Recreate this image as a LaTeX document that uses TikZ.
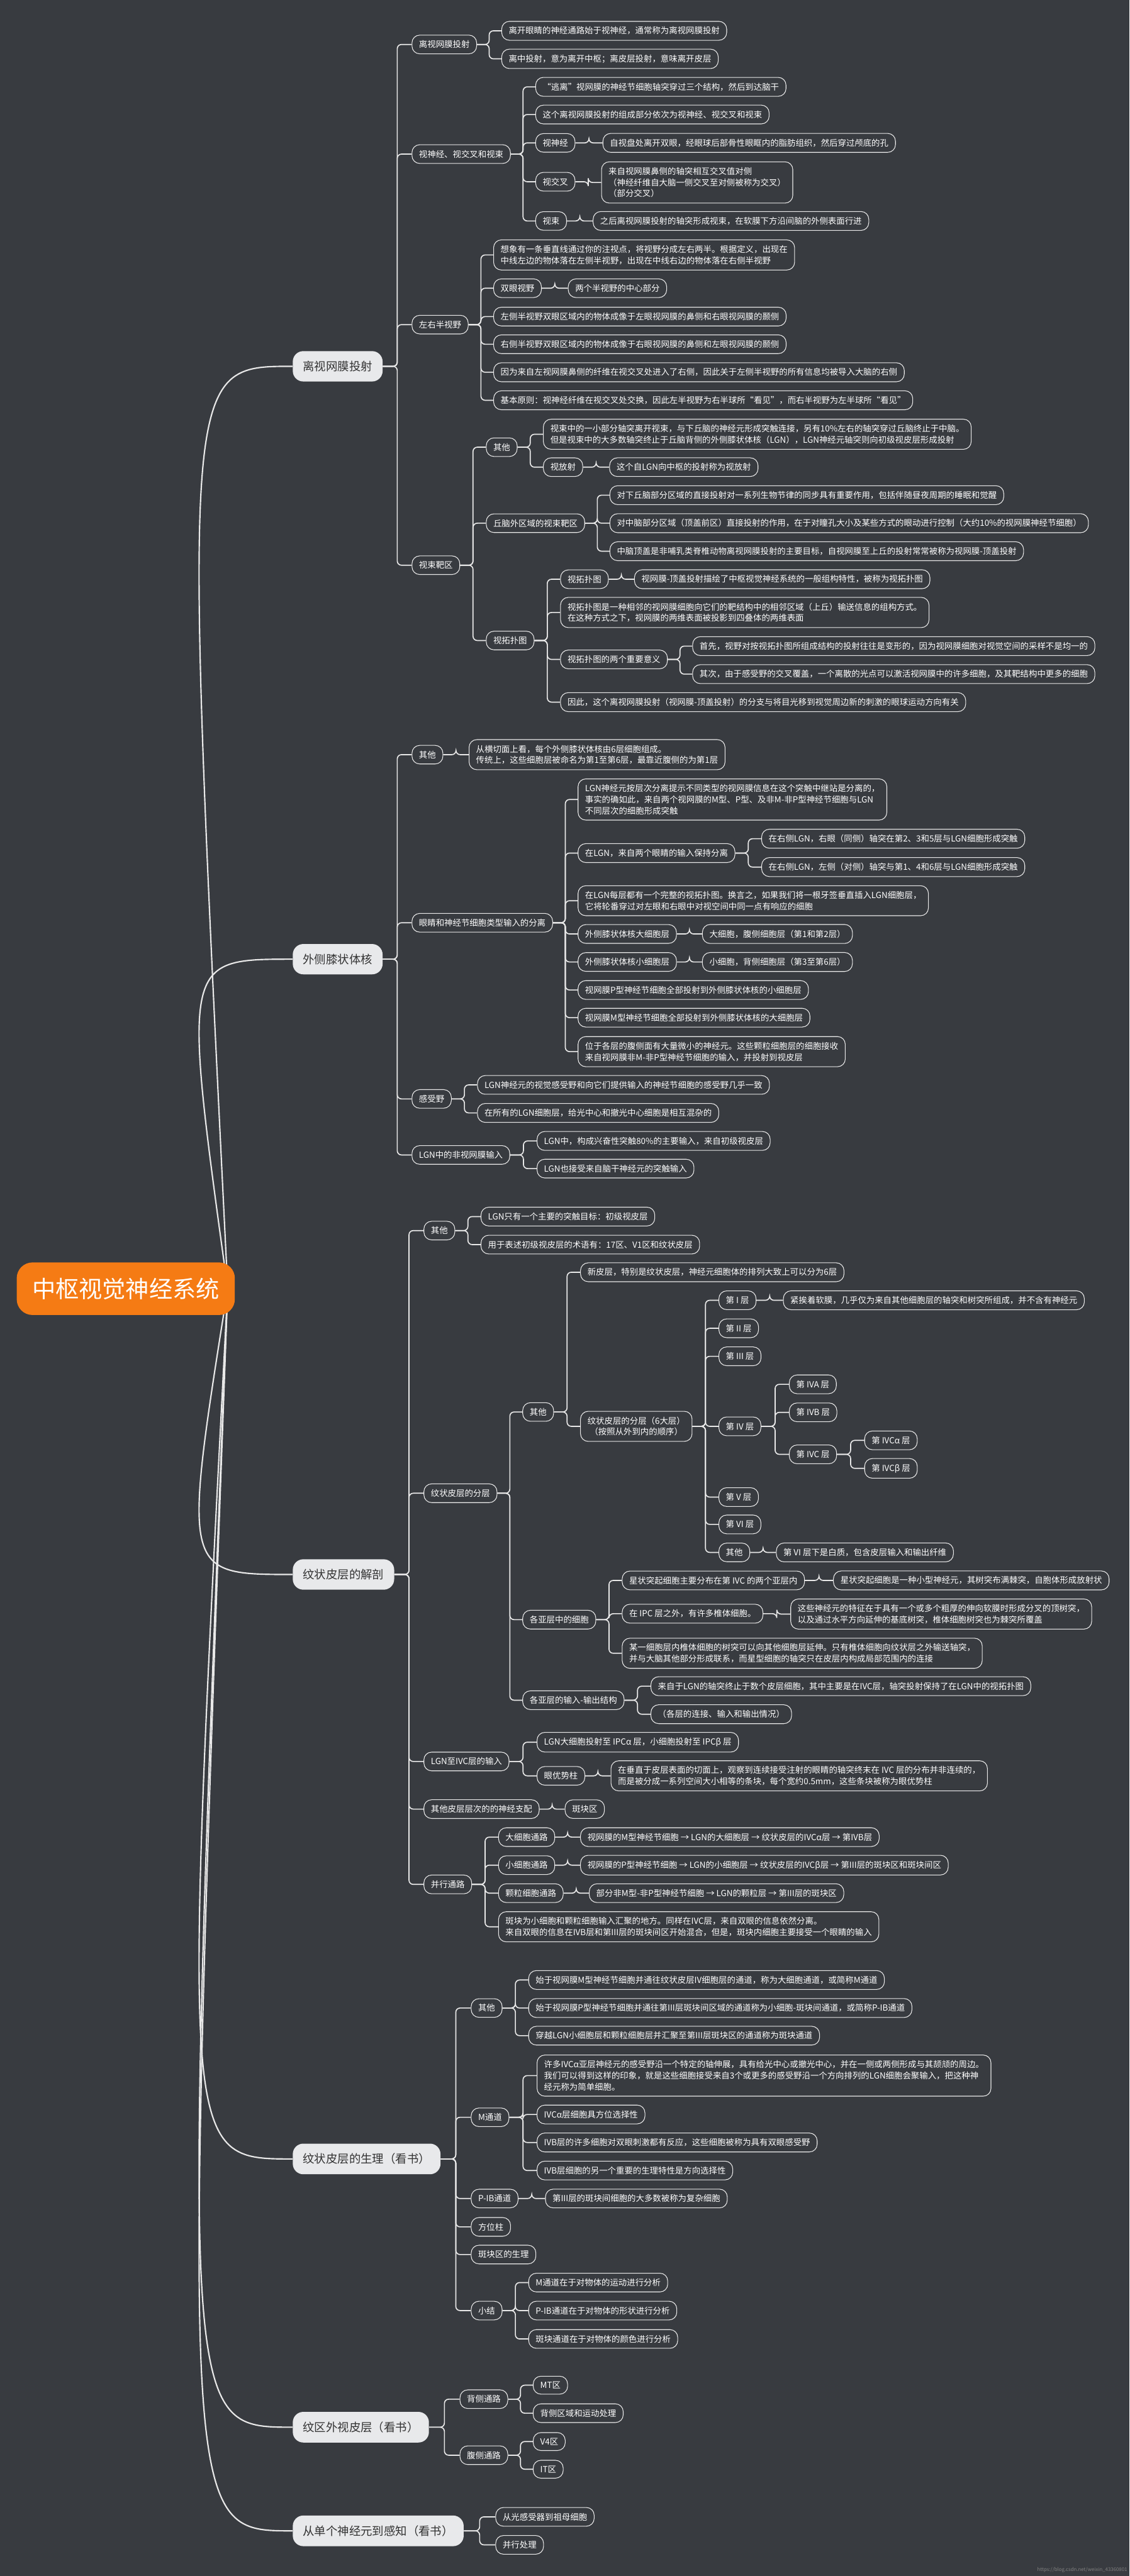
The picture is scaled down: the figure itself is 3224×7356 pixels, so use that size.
\documentclass[tikz,border=0pt]{standalone}
\usepackage{fontspec}
\setmainfont{Noto Sans CJK SC}
\usetikzlibrary{calc}
\definecolor{bgc}{RGB}{56,59,64}
\definecolor{linec}{RGB}{232,232,232}
\definecolor{lonefill}{RGB}{232,233,235}
\definecolor{lonetext}{RGB}{51,51,51}
\definecolor{rootfill}{RGB}{245,123,20}
\pgfdeclarelayer{bglayer}\pgfdeclarelayer{linelayer}
\pgfsetlayers{bglayer,linelayer,main}
\newcommand\fsmall{\fontsize{6.85}{9.1}\selectfont}
\newcommand\fone{\fontsize{9.4}{11}\selectfont}
\newcommand\froot{\fontsize{19}{22}\selectfont}
\newcommand\cn[2]{\draw[conn] (#1.east) -- ($(#1.east)!0.5!(#1.east-|#2.west)$) |- (#2.west);}
\begin{document}
\begin{tikzpicture}[x=0.01cm,y=-0.01cm,
  n/.style={draw=linec, line width=0.55pt, fill=bgc, rounded corners=0.22cm, inner xsep=0.2cm, inner ysep=0.155cm, text=white, font=\fsmall, anchor=west, align=left},
  lone/.style={fill=lonefill, draw=none, rounded corners=0.3cm, text=lonetext, font=\fone, inner xsep=0.29cm, inner ysep=0.28cm, anchor=west},
  rootbox/.style={fill=rootfill, draw=none, rounded corners=0.45cm, text=white, font=\froot, inner xsep=0.44cm, minimum height=1.5cm},
  conn/.style={draw=linec, line width=0.85pt, rounded corners=0.12cm},
  curve/.style={draw=linec, line width=1.1pt}]
\begin{pgfonlayer}{bglayer}
\fill[bgc] (0,0) rectangle (3224,7356);
\end{pgfonlayer}
\useasboundingbox (0,0) rectangle (3224,7356);

% root and first level
\node[rootbox] (root) at (359,3680) {中枢视觉神经系统};
\coordinate (rc) at (650,3680);
\node[lone] (L1) at (835,1046) {离视网膜投射};
\node[lone] (L2) at (835,2739) {外侧膝状体核};
\node[lone] (L3) at (835,4496) {纹状皮层的解剖};
\node[lone] (L4) at (835,6165) {纹状皮层的生理（看书）};
\node[lone] (L5) at (835,6931) {纹区外视皮层（看书）};
\node[lone] (L6) at (835,7227) {从单个神经元到感知（看书）};

% ---- L1
\node[n] (A1) at (1175,127) {离视网膜投射};
\node[n] (A1a) at (1431,88) {离开眼睛的神经通路始于视神经，通常称为离视网膜投射};
\node[n] (A1b) at (1431,168) {离中投射，意为离开中枢；离皮层投射，意味离开皮层};
\node[n] (A2) at (1175,440) {视神经、视交叉和视束};
\node[n] (A2a) at (1528,248) {“逃离”视网膜的神经节细胞轴突穿过三个结构，然后到达脑干};
\node[n] (A2b) at (1528,327) {这个离视网膜投射的组成部分依次为视神经、视交叉和视束};
\node[n] (A2c) at (1528,408) {视神经};
\node[n] (A2c1) at (1720,408) {自视盘处离开双眼，经眼球后部骨性眼眶内的脂肪组织，然后穿过颅底的孔};
\node[n] (A2d) at (1528,519) {视交叉};
\node[n] (A2d1) at (1716,521) {来自视网膜鼻侧的轴突相互交叉值对侧\\（神经纤维自大脑一侧交叉至对侧被称为交叉）\\（部分交叉）};
\node[n] (A2e) at (1528,631) {视束};
\node[n] (A2e1) at (1692,631) {之后离视网膜投射的轴突形成视束，在软膜下方沿间脑的外侧表面行进};
\node[n] (A3) at (1175,927) {左右半视野};
\node[n] (A3a) at (1408,728) {想象有一条垂直线通过你的注视点，将视野分成左右两半。根据定义，出现在\\中线左边的物体落在左侧半视野，出现在中线右边的物体落在右侧半视野};
\node[n] (A3b) at (1408,823) {双眼视野};
\node[n] (A3b1) at (1621,823) {两个半视野的中心部分};
\node[n] (A3c) at (1408,904) {左侧半视野双眼区域内的物体成像于左眼视网膜的鼻侧和右眼视网膜的颞侧};
\node[n] (A3d) at (1408,983) {右侧半视野双眼区域内的物体成像于右眼视网膜的鼻侧和左眼视网膜的颞侧};
\node[n] (A3e) at (1408,1063) {因为来自左视网膜鼻侧的纤维在视交叉处进入了右侧，因此关于左侧半视野的所有信息均被导入大脑的右侧};
\node[n] (A3f) at (1408,1143) {基本原则：视神经纤维在视交叉处交换，因此左半视野为右半球所“看见”，而右半视野为左半球所“看见”};
\node[n] (A4) at (1175,1614) {视束靶区};
\node[n] (A4a) at (1387,1277) {其他};
\node[n] (A4a1) at (1550,1240) {视束中的一小部分轴突离开视束，与下丘脑的神经元形成突触连接，另有10\%左右的轴突穿过丘脑终止于中脑。\\但是视束中的大多数轴突终止于丘脑背侧的外侧膝状体核（LGN），LGN神经元轴突则向初级视皮层形成投射};
\node[n] (A4a2) at (1550,1334) {视放射};
\node[n] (A4a2a) at (1739,1334) {这个自LGN向中枢的投射称为视放射};
\node[n] (A4b) at (1387,1494) {丘脑外区域的视束靶区};
\node[n] (A4b1) at (1740,1414) {对下丘脑部分区域的直接投射对一系列生物节律的同步具有重要作用，包括伴随昼夜周期的睡眠和觉醒};
\node[n] (A4b2) at (1740,1494) {对中脑部分区域（顶盖前区）直接投射的作用，在于对瞳孔大小及某些方式的眼动进行控制（大约10\%的视网膜神经节细胞）};
\node[n] (A4b3) at (1740,1574) {中脑顶盖是非哺乳类脊椎动物离视网膜投射的主要目标，自视网膜至上丘的投射常常被称为视网膜-顶盖投射};
\node[n] (A4c) at (1387,1829) {视拓扑图};
\node[n] (A4c1) at (1599,1654) {视拓扑图};
\node[n] (A4c1a) at (1810,1654) {视网膜-顶盖投射描绘了中枢视觉神经系统的一般组构特性，被称为视拓扑图};
\node[n] (A4c2) at (1599,1749) {视拓扑图是一种相邻的视网膜细胞向它们的靶结构中的相邻区域（上丘）输送信息的组构方式。\\在这种方式之下，视网膜的两维表面被投影到四叠体的两维表面};
\node[n] (A4c3) at (1599,1883) {视拓扑图的两个重要意义};
\node[n] (A4c3a) at (1976,1845) {首先，视野对按视拓扑图所组成结构的投射往往是变形的，因为视网膜细胞对视觉空间的采样不是均一的};
\node[n] (A4c3b) at (1976,1925) {其次，由于感受野的交叉覆盖，一个离散的光点可以激活视网膜中的许多细胞，及其靶结构中更多的细胞};
\node[n] (A4c4) at (1599,2005) {因此，这个离视网膜投射（视网膜-顶盖投射）的分支与将目光移到视觉周边新的刺激的眼球运动方向有关};

% ---- L2
\node[n] (B1) at (1175,2155) {其他};
\node[n] (B1a) at (1338,2155) {从横切面上看，每个外侧膝状体核由6层细胞组成。\\传统上，这些细胞层被命名为第1至第6层，最靠近腹侧的为第1层};
\node[n] (B2) at (1175,2635) {眼睛和神经节细胞类型输入的分离};
\node[n] (B2a) at (1649,2283) {LGN神经元按层次分离提示不同类型的视网膜信息在这个突触中继站是分离的，\\事实的确如此，来自两个视网膜的M型、P型、及非M-非P型神经节细胞与LGN\\不同层次的细胞形成突触};
\node[n] (B2b) at (1649,2436) {在LGN，来自两个眼睛的输入保持分离};
\node[n] (B2b1) at (2173,2395) {在右侧LGN，右眼（同侧）轴突在第2、3和5层与LGN细胞形成突触};
\node[n] (B2b2) at (2173,2476) {在右侧LGN，左侧（对侧）轴突与第1、4和6层与LGN细胞形成突触};
\node[n] (B2c) at (1649,2572) {在LGN每层都有一个完整的视拓扑图。换言之，如果我们将一根牙签垂直插入LGN细胞层，\\它将轮番穿过对左眼和右眼中对视空间中同一点有响应的细胞};
\node[n] (B2d) at (1649,2667) {外侧膝状体核大细胞层};
\node[n] (B2d1) at (2004,2667) {大细胞，腹侧细胞层（第1和第2层）};
\node[n] (B2e) at (1649,2747) {外侧膝状体核小细胞层};
\node[n] (B2e1) at (2004,2747) {小细胞，背侧细胞层（第3至第6层）};
\node[n] (B2f) at (1649,2827) {视网膜P型神经节细胞全部投射到外侧膝状体核的小细胞层};
\node[n] (B2g) at (1649,2906) {视网膜M型神经节细胞全部投射到外侧膝状体核的大细胞层};
\node[n] (B2h) at (1649,3003) {位于各层的腹侧面有大量微小的神经元。这些颗粒细胞层的细胞接收\\来自视网膜非M-非P型神经节细胞的输入，并投射到视皮层};
\node[n] (B3) at (1175,3138) {感受野};
\node[n] (B3a) at (1362,3098) {LGN神经元的视觉感受野和向它们提供输入的神经节细胞的感受野几乎一致};
\node[n] (B3b) at (1362,3178) {在所有的LGN细胞层，给光中心和撤光中心细胞是相互混杂的};
\node[n] (B4) at (1175,3298) {LGN中的非视网膜输入};
\node[n] (B4a) at (1532,3258) {LGN中，构成兴奋性突触80\%的主要输入，来自初级视皮层};
\node[n] (B4b) at (1532,3337) {LGN也接受来自脑干神经元的突触输入};

% ---- L3
\node[n] (C1) at (1209,3514) {其他};
\node[n] (C1a) at (1372,3474) {LGN只有一个主要的突触目标：初级视皮层};
\node[n] (C1b) at (1372,3554) {用于表述初级视皮层的术语有：17区、V1区和纹状皮层};
\node[n] (C2) at (1209,4264) {纹状皮层的分层};
\node[n] (C2a) at (1491,4032) {其他};
\node[n] (C2a1) at (1656,3633) {新皮层，特别是纹状皮层，神经元细胞体的排列大致上可以分为6层};
\node[n, align=center] (C2a2) at (1656,4073) {纹状皮层的分层（6大层）\\（按照从外到内的顺序）};
\node[n] (La1) at (2051,3713) {第 I 层};
\node[n] (La1a) at (2235,3713) {紧挨着软膜，几乎仅为来自其他细胞层的轴突和树突所组成，并不含有神经元};
\node[n] (La2) at (2051,3793) {第 II 层};
\node[n] (La3) at (2051,3873) {第 III 层};
\node[n] (La4) at (2051,4073) {第 IV 层};
\node[n] (Lb1) at (2252,3953) {第 IVA 层};
\node[n] (Lb2) at (2252,4033) {第 IVB 层};
\node[n] (Lb3) at (2252,4153) {第 IVC 层};
\node[n] (Lc1) at (2467,4113) {第 IVCα 层};
\node[n] (Lc2) at (2467,4193) {第 IVCβ 层};
\node[n] (La5) at (2051,4275) {第 V 层};
\node[n] (La6) at (2051,4353) {第 VI 层};
\node[n] (La7) at (2051,4433) {其他};
\node[n] (La7a) at (2215,4433) {第 VI 层下是白质，包含皮层输入和输出纤维};
\node[n] (C2b) at (1491,4625) {各亚层中的细胞};
\node[n] (C2b1) at (1775,4513) {星状突起细胞主要分布在第 IVC 的两个亚层内};
\node[n] (C2b1a) at (2378,4513) {星状突起细胞是一种小型神经元，其树突布满棘突，自胞体形成放射状};
\node[n] (C2b2) at (1775,4608) {在 IPC 层之外，有许多椎体细胞。};
\node[n] (C2b2a) at (2256,4609) {这些神经元的特征在于具有一个或多个粗厚的伸向软膜时形成分叉的顶树突，\\以及通过水平方向延伸的基底树突，椎体细胞树突也为棘突所覆盖};
\node[n] (C2b3) at (1775,4721) {某一细胞层内椎体细胞的树突可以向其他细胞层延伸。只有椎体细胞向纹状层之外输送轴突，\\并与大脑其他部分形成联系，而星型细胞的轴突只在皮层内构成局部范围内的连接};
\node[n] (C2c) at (1491,4855) {各亚层的输入-输出结构};
\node[n] (C2c1) at (1857,4815) {来自于LGN的轴突终止于数个皮层细胞，其中主要是在IVC层，轴突投射保持了在LGN中的视拓扑图};
\node[n] (C2c2) at (1857,4895) {（各层的连接、输入和输出情况）};
\node[n] (C3) at (1209,5030) {LGN至IVC层的输入};
\node[n] (C3a) at (1532,4975) {LGN大细胞投射至 IPCα 层，小细胞投射至 IPCβ 层};
\node[n] (C3b) at (1532,5071) {眼优势柱};
\node[n] (C3b1) at (1743,5071) {在垂直于皮层表面的切面上，观察到连续接受注射的眼睛的轴突终末在 IVC 层的分布并非连续的，\\而是被分成一系列空间大小相等的条块，每个宽约0.5mm，这些条块被称为眼优势柱};
\node[n] (C4) at (1209,5166) {其他皮层层次的的神经支配};
\node[n] (C4a) at (1612,5166) {斑块区};
\node[n] (C5) at (1209,5381) {并行通路};
\node[n] (C5a) at (1422,5246) {大细胞通路};
\node[n] (C5a1) at (1656,5246) {视网膜的M型神经节细胞 → LGN的大细胞层 → 纹状皮层的IVCα层 → 第IVB层};
\node[n] (C5b) at (1422,5326) {小细胞通路};
\node[n] (C5b1) at (1656,5326) {视网膜的P型神经节细胞 → LGN的小细胞层 → 纹状皮层的IVCβ层 → 第III层的斑块区和斑块间区};
\node[n] (C5c) at (1422,5406) {颗粒细胞通路};
\node[n] (C5c1) at (1681,5406) {部分非M型-非P型神经节细胞 → LGN的颗粒层 → 第III层的斑块区};
\node[n] (C5d) at (1422,5502) {斑块为小细胞和颗粒细胞输入汇聚的地方。同样在IVC层，来自双眼的信息依然分离。\\来自双眼的信息在IVB层和第III层的斑块间区开始混合，但是，斑块内细胞主要接受一个眼睛的输入};

% ---- L4
\node[n] (D1) at (1344,5734) {其他};
\node[n] (D1a) at (1508,5654) {始于视网膜M型神经节细胞并通往纹状皮层IV细胞层的通道，称为大细胞通道，或简称M通道};
\node[n] (D1b) at (1508,5734) {始于视网膜P型神经节细胞并通往第III层斑块间区域的通道称为小细胞-斑块间通道，或简称P-IB通道};
\node[n] (D1c) at (1508,5813) {穿越LGN小细胞层和颗粒细胞层并汇聚至第III层斑块区的通道称为斑块通道};
\node[n] (D2) at (1344,6046) {M通道};
\node[n] (D2a) at (1532,5927) {许多IVCα亚层神经元的感受野沿一个特定的轴伸展，具有给光中心或撤光中心，并在一侧或两侧形成与其颉颃的周边。\\我们可以得到这样的印象，就是这些细胞接受来自3个或更多的感受野沿一个方向排列的LGN细胞会聚输入，把这种神\\经元称为简单细胞。};
\node[n] (D2b) at (1532,6038) {IVCα层细胞具方位选择性};
\node[n] (D2c) at (1532,6118) {IVB层的许多细胞对双眼刺激都有反应，这些细胞被称为具有双眼感受野};
\node[n] (D2d) at (1532,6198) {IVB层细胞的另一个重要的生理特性是方向选择性};
\node[n] (D3) at (1344,6278) {P-IB通道};
\node[n] (D3a) at (1556,6278) {第III层的斑块间细胞的大多数被称为复杂细胞};
\node[n] (D4) at (1344,6359) {方位柱};
\node[n] (D5) at (1344,6438) {斑块区的生理};
\node[n] (D6) at (1344,6598) {小结};
\node[n] (D6a) at (1508,6518) {M通道在于对物体的运动进行分析};
\node[n] (D6b) at (1508,6598) {P-IB通道在于对物体的形状进行分析};
\node[n] (D6c) at (1508,6679) {斑块通道在于对物体的颜色进行分析};

% ---- L5, L6
\node[n] (E1) at (1312,6851) {背侧通路};
\node[n] (E1a) at (1521,6811) {MT区};
\node[n] (E1b) at (1521,6891) {背侧区域和运动处理};
\node[n] (E2) at (1312,7011) {腹侧通路};
\node[n] (E2a) at (1521,6972) {V4区};
\node[n] (E2b) at (1521,7051) {IT区};
\node[n] (F1) at (1414,7187) {从光感受器到祖母细胞};
\node[n] (F2) at (1414,7267) {并行处理};

\node[anchor=east, text=gray, font=\fontsize{4}{5}\selectfont, inner sep=0] (wm) at (3218,7338) {https://blog.csdn.net/weixin\_43360801};

\begin{pgfonlayer}{linelayer}
\foreach \t in {L1,L2,L3,L4,L5,L6}{
  \draw[curve] (rc) .. controls ($(rc |- \t.west)+(-130,0)$) and ($(rc |- \t.west)+(-130,0)$) .. (\t.west);
}
\foreach \p/\c in {L1/A1,L1/A2,L1/A3,L1/A4,A1/A1a,A1/A1b,A2/A2a,A2/A2b,A2/A2c,A2/A2d,A2/A2e,A2c/A2c1,A2d/A2d1,A2e/A2e1,
  A3/A3a,A3/A3b,A3/A3c,A3/A3d,A3/A3e,A3/A3f,A3b/A3b1,A4/A4a,A4/A4b,A4/A4c,A4a/A4a1,A4a/A4a2,A4a2/A4a2a,
  A4b/A4b1,A4b/A4b2,A4b/A4b3,A4c/A4c1,A4c/A4c2,A4c/A4c3,A4c/A4c4,A4c1/A4c1a,A4c3/A4c3a,A4c3/A4c3b,
  L2/B1,L2/B2,L2/B3,L2/B4,B1/B1a,B2/B2a,B2/B2b,B2/B2c,B2/B2d,B2/B2e,B2/B2f,B2/B2g,B2/B2h,B2b/B2b1,B2b/B2b2,
  B2d/B2d1,B2e/B2e1,B3/B3a,B3/B3b,B4/B4a,B4/B4b,
  L3/C1,L3/C2,L3/C3,L3/C4,L3/C5,C1/C1a,C1/C1b,C2/C2a,C2/C2b,C2/C2c,C2a/C2a1,C2a/C2a2,
  C2a2/La1,C2a2/La2,C2a2/La3,C2a2/La4,C2a2/La5,C2a2/La6,C2a2/La7,La1/La1a,La4/Lb1,La4/Lb2,La4/Lb3,Lb3/Lc1,Lb3/Lc2,La7/La7a,
  C2b/C2b1,C2b/C2b2,C2b/C2b3,C2b1/C2b1a,C2b2/C2b2a,C2c/C2c1,C2c/C2c2,C3/C3a,C3/C3b,C3b/C3b1,C4/C4a,
  C5/C5a,C5/C5b,C5/C5c,C5/C5d,C5a/C5a1,C5b/C5b1,C5c/C5c1,
  L4/D1,L4/D2,L4/D3,L4/D4,L4/D5,L4/D6,D1/D1a,D1/D1b,D1/D1c,D2/D2a,D2/D2b,D2/D2c,D2/D2d,D3/D3a,D6/D6a,D6/D6b,D6/D6c,
  L5/E1,L5/E2,E1/E1a,E1/E1b,E2/E2a,E2/E2b,L6/F1,L6/F2}{
  \cn{\p}{\c}
}
\end{pgfonlayer}
\end{tikzpicture}
\end{document}
